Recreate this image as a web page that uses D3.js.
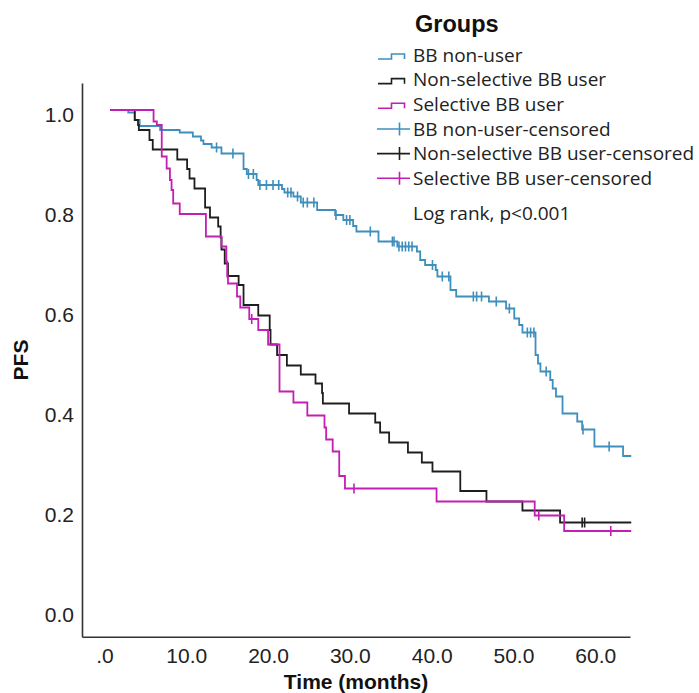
<!DOCTYPE html>
<html lang="en">
<head>
    <title>PFS by beta-blocker group</title>
    <script src="https://cdnjs.cloudflare.com/ajax/libs/d3/7.8.5/d3.min.js"></script>
    <style>
        body { margin: 0; background: #fff; }
        .tick text { font-family: "Liberation Sans", Arial, sans-serif; font-size: 21px; fill: #222; }
        .axis-title { font-family: "Liberation Sans", Arial, sans-serif; font-size: 21px; font-weight: bold; fill: #111; }
        .legend text { font-family: "Open Sans", sans-serif; font-size: 19px; fill: #222; }
        .curve { fill: none; stroke-width: 1.8; }
    </style>
</head>
<body>
    <svg width="699" height="693"></svg>

    <script>
        // Kaplan-Meier step points: event time (months) and PFS after it
        const nonUserTimes = [2.9, 3.7, 4.3, 6.8, 9.2, 10.8, 11.8, 12.1, 13.1, 14.3, 17.0, 17.4, 18.6, 18.8,
            21.7, 22.0, 23.1, 24.0, 26.0, 28.2, 29.2, 30.4, 30.8, 33.5, 35.8, 38.2, 38.6, 39.2, 40.5, 40.7,
            42.3, 43.0, 47.0, 49.1, 50.1, 50.7, 51.1, 52.7, 53.0, 53.3, 54.5, 54.8, 55.2, 56.0, 57.8, 58.4,
            59.9, 63.4];
        const nonUserPFS = [0.995, 0.98, 0.968, 0.96, 0.955, 0.947, 0.939, 0.932, 0.925, 0.913, 0.882, 0.872, 0.86, 0.85,
            0.842, 0.835, 0.827, 0.815, 0.80, 0.79, 0.78, 0.768, 0.757, 0.737, 0.727, 0.717, 0.70, 0.69, 0.68, 0.667,
            0.64, 0.627, 0.617, 0.603, 0.583, 0.57, 0.555, 0.51, 0.493, 0.477, 0.46, 0.443, 0.427, 0.393, 0.377, 0.361,
            0.327, 0.308];
        const nonUserCensored = [13.7, 15.7, 17.6, 18.2, 19.0, 19.8, 20.6, 21.3, 22.4, 22.8, 23.6, 24.3, 24.8, 25.6,
            28.3, 29.6, 30.0, 32.5, 35.2, 35.4, 36.0, 36.4, 36.8, 37.2, 37.6, 40.1, 41.3, 42.1, 45.1, 45.5, 46.1,
            47.9, 49.5, 51.7, 52.1, 52.5, 54.0, 58.5, 61.7];

        const nonSelTimes = [3.7, 4.1, 4.2, 5.5, 5.9, 8.9, 10.1, 10.4, 11.0, 12.3, 12.9, 13.9, 14.2, 14.3, 14.7, 15.1,
            16.4, 17.0, 18.8, 20.2, 20.3, 21.1, 22.3, 24.0, 25.8, 26.6, 26.7, 29.9, 33.1, 33.7, 34.8, 37.1, 38.8,
            40.1, 43.5, 46.7, 51.1, 55.7];
        const nonSelPFS = [0.98, 0.97, 0.96, 0.94, 0.921, 0.901, 0.882, 0.863, 0.843, 0.805, 0.785, 0.767, 0.745, 0.721, 0.693, 0.668,
            0.65, 0.61, 0.589, 0.56, 0.531, 0.51, 0.489, 0.471, 0.453, 0.434, 0.413, 0.393, 0.375, 0.355, 0.335, 0.315, 0.295,
            0.277, 0.238, 0.217, 0.199, 0.175];
        const nonSelCensored = [58.4, 58.7];

        const selTimes = [6.0, 6.4, 7.0, 7.6, 8.0, 8.2, 8.4, 9.2, 12.4, 14.3, 14.9, 15.0, 15.1, 16.2, 16.6, 17.7, 18.8,
            20.0, 21.4, 23.1, 24.8, 26.9, 27.1, 27.9, 28.7, 29.4, 40.6, 52.6, 56.2];
        const selPFS = [0.977, 0.97, 0.907, 0.883, 0.86, 0.84, 0.813, 0.792, 0.747, 0.727, 0.697, 0.667, 0.653, 0.627, 0.605, 0.582, 0.56,
            0.531, 0.437, 0.415, 0.389, 0.365, 0.341, 0.317, 0.268, 0.243, 0.217, 0.189, 0.158];
        const selCensored = [18.0, 30.5, 53.1, 61.9];

        const startTime = 0.7, endTime = 64.4;

        const groupNames = ["BB non-user", "Non-selective BB user", "Selective BB user"];
        const groupColors = ["#3f8fbd", "#1e1e1e", "#c41fb4"];
        const yTicks = [0, 0.2, 0.4, 0.6, 0.8, 1.0];
        const xTicks = [0, 10, 20, 30, 40, 50, 60];

        const groups = [
            { times: nonUserTimes, pfs: nonUserPFS, censored: nonUserCensored },
            { times: nonSelTimes, pfs: nonSelPFS, censored: nonSelCensored },
            { times: selTimes, pfs: selPFS, censored: selCensored }
        ];

        const svg = d3.select("svg");

        const x = d3.scaleLinear().domain([-2.75, 64.25]).range([82, 630]);
        const y = d3.scaleLinear().domain([-0.0534, 1.054]).range([636.7, 83]);

        // axes
        const xAxis = svg.append("g")
            .attr("transform", "translate(0,636.7)")
            .call(d3.axisBottom(x).tickValues(xTicks).tickSize(0).tickSizeOuter(0).tickPadding(11)
                .tickFormat(d => d === 0 ? ".0" : d.toFixed(1)));
        const yAxis = svg.append("g")
            .attr("transform", "translate(82,0)")
            .call(d3.axisLeft(y).tickValues(yTicks).tickSize(0).tickSizeOuter(0).tickPadding(8)
                .tickFormat(d3.format(".1f")));
        yAxis.selectAll(".tick text").attr("transform", "translate(0,5)");
        [xAxis, yAxis].forEach(a => a.select(".domain").attr("stroke", "#333").attr("stroke-width", 1.6));

        svg.append("text").attr("class", "axis-title")
            .attr("x", 356).attr("y", 689).attr("text-anchor", "middle")
            .text("Time (months)");
        svg.append("text").attr("class", "axis-title")
            .attr("transform", "translate(27.5,360) rotate(-90)").attr("text-anchor", "middle")
            .text("PFS");

        // curves
        const line = d3.line().x(d => x(d[0])).y(d => y(d[1])).curve(d3.curveStepAfter);

        function pfsAt(g, t) {
            const i = d3.bisectRight(g.times, t);
            return i === 0 ? 1 : g.pfs[i - 1];
        }

        groups.forEach((g, gi) => {
            const pts = [[startTime, 1]].concat(g.times.map((t, i) => [t, g.pfs[i]]));
            pts.push([endTime, g.pfs[g.pfs.length - 1]]);
            svg.append("path").attr("class", "curve")
                .attr("stroke", groupColors[gi])
                .attr("d", line(pts));

            svg.append("g").selectAll("line")
                .data(g.censored)
                .join("line")
                .attr("x1", d => x(d)).attr("x2", d => x(d))
                .attr("y1", d => y(pfsAt(g, d)) - 5)
                .attr("y2", d => y(pfsAt(g, d)) + 5)
                .attr("stroke", groupColors[gi])
                .attr("stroke-width", 1.6);
        });

        // legend
        const legend = svg.append("g").attr("class", "legend");
        legend.append("text")
            .attr("x", 415).attr("y", 31.5)
            .style("font-family", "'Liberation Sans', Arial, sans-serif")
            .style("font-size", "23.5px").style("font-weight", "bold").style("fill", "#111")
            .text("Groups");

        const legendItems = groupNames.map((n, i) => ({ label: n, color: groupColors[i], censor: false }))
            .concat(groupNames.map((n, i) => ({ label: n + "-censored", color: groupColors[i], censor: true })));

        const row = legend.selectAll("g.item")
            .data(legendItems)
            .join("g")
            .attr("class", "item")
            .attr("transform", (d, i) => `translate(0,${55 + i * 24.65})`);

        row.filter(d => !d.censor).append("path")
            .attr("d", "M378,4H391.5V-1H404.5V4")
            .attr("fill", "none")
            .attr("stroke", d => d.color)
            .attr("stroke-width", 1.6);
        row.filter(d => d.censor).append("path")
            .attr("d", "M377,0H410M399.5,-6.5V6.5")
            .attr("fill", "none")
            .attr("stroke", d => d.color)
            .attr("stroke-width", 1.6);
        row.append("text")
            .attr("x", 413).attr("y", 6.8)
            .text(d => d.label);

        legend.append("text")
            .attr("x", 413).attr("y", 220)
            .text("Log rank, p<0.001");
    </script>
</body>
</html>
